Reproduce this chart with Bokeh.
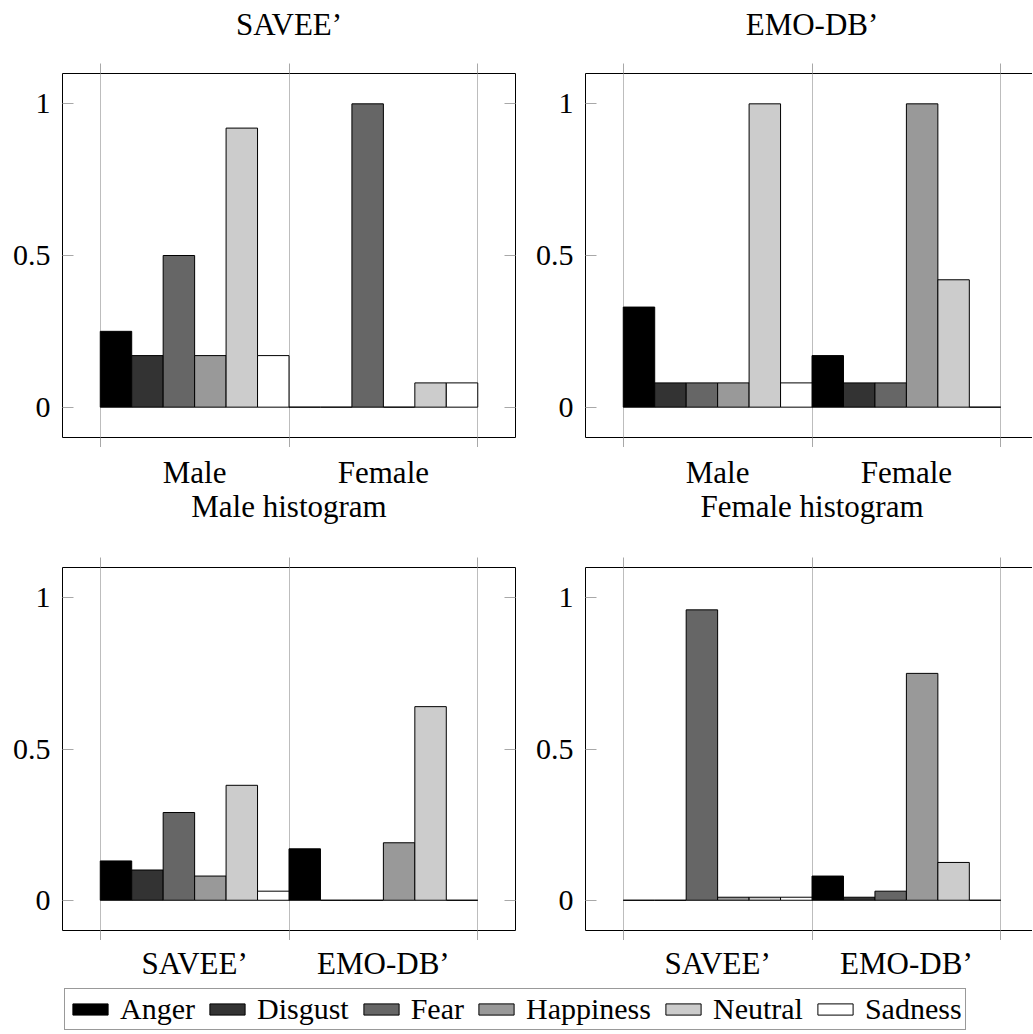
from bokeh.plotting import figure
from bokeh.models import Range1d, FixedTicker, LinearAxis, Legend, LegendItem, ColumnDataSource
from bokeh.core.properties import value
from bokeh.layouts import column, row
from bokeh.embed import file_html
from bokeh.resources import INLINE

emotions = ["Anger", "Disgust", "Fear", "Happiness", "Neutral", "Sadness"]
colors = ["#000000", "#333333", "#666666", "#999999", "#cccccc", "#ffffff"]

top_groups = ["Male", "Female"]
bottom_groups = ["SAVEE’", "EMO-DB’"]
titles = ["SAVEE’", "EMO-DB’", "Male histogram", "Female histogram"]

# values per group, ordered as emotions
savee_male = [0.25, 0.17, 0.50, 0.17, 0.92, 0.17]
savee_female = [0.0, 0.0, 1.00, 0.0, 0.08, 0.08]
emodb_male = [0.33, 0.08, 0.08, 0.08, 1.00, 0.08]
emodb_female = [0.17, 0.08, 0.08, 1.00, 0.42, 0.0]
malehist_savee = [0.13, 0.10, 0.29, 0.08, 0.38, 0.03]
malehist_emodb = [0.17, 0.0, 0.0, 0.19, 0.64, 0.0]
femalehist_savee = [0.0, 0.0, 0.96, 0.01, 0.01, 0.01]
femalehist_emodb = [0.08, 0.01, 0.03, 0.75, 0.125, 0.0]

yticks = [0, 0.5, 1]
ytick_labels = ["0", "0.5", "1"]

FONT = "Liberation Serif"
FS = "30px"
FS_TEXT = "31px"
GRID = "#bdbdbd"
TICK = "#a8a8a8"


def make_panel(groups, series, width, height, mb_left, mb_right, mb_top, mb_bottom,
               x_end, right_axis=True):
    p = figure(width=width, height=height, x_range=Range1d(0.3, x_end), y_range=Range1d(-0.1, 1.1),
               output_backend="svg", toolbar_location=None, title=None,
               min_border_left=mb_left, min_border_right=mb_right,
               min_border_top=mb_top, min_border_bottom=mb_bottom)
    p.outline_line_color = None
    p.background_fill_color = "white"
    p.border_fill_color = "white"

    gpos = [i + 1 for i in range(len(groups))]
    bounds = [gpos[0] - 0.5] + [g + 0.5 for g in gpos]

    p.xgrid[0].ticker = FixedTicker(ticks=bounds)
    p.xgrid[0].grid_line_color = GRID
    p.xgrid[0].grid_line_width = 1
    p.ygrid[0].grid_line_color = None

    # bottom and top axes: tick marks at group boundaries, outside
    for xa, loc in ((p.xaxis[0], None), (LinearAxis(), "above")):
        xa.ticker = FixedTicker(ticks=[], minor_ticks=bounds)
        xa.major_tick_out = 0
        xa.major_tick_in = 0
        xa.minor_tick_out = 10
        xa.minor_tick_in = 0
        xa.minor_tick_line_color = TICK
        xa.axis_line_color = "black"
        xa.major_label_standoff = 0
        if loc:
            p.add_layout(xa, loc)

    # left axis
    ya = p.yaxis[0]
    ya.ticker = FixedTicker(ticks=yticks, minor_ticks=[])
    ya.major_label_overrides = {t: lab for t, lab in zip(yticks, ytick_labels)}
    ya.major_tick_out = 0
    ya.major_tick_in = 11
    ya.major_tick_line_color = TICK
    ya.axis_line_color = "black"
    ya.major_label_text_font = FONT
    ya.major_label_text_font_size = FS
    ya.major_label_text_color = "black"
    ya.major_label_standoff = 12

    if right_axis:
        ra = LinearAxis(ticker=FixedTicker(ticks=[], minor_ticks=yticks))
        ra.major_tick_out = 0
        ra.major_tick_in = 0
        ra.minor_tick_out = 0
        ra.minor_tick_in = 11
        ra.minor_tick_line_color = TICK
        ra.axis_line_color = "black"
        ra.major_label_standoff = 0
        p.add_layout(ra, "right")

    n = len(emotions)
    for ei, (emo, col) in enumerate(zip(emotions, colors)):
        xs = [g + (ei - (n - 1) / 2) / n for g in gpos]
        tops = [s[ei] for s in series]
        src = ColumnDataSource(dict(x=xs, top=tops))
        p.vbar(x="x", top="top", bottom=0, width=1 / n, source=src,
               fill_color=col, line_color="black", line_width=1)
    return p


def text_strip(panel, height, entries):
    """A strip of text sharing the panel's horizontal scale; y counts pixels from the top (text middle)."""
    t = figure(width=panel.width, height=height, x_range=panel.x_range, y_range=Range1d(height, 0),
               output_backend="svg", toolbar_location=None, title=None,
               x_axis_location=None, y_axis_location=None,
               min_border_left=panel.min_border_left, min_border_right=panel.min_border_right,
               min_border_top=0, min_border_bottom=0)
    t.outline_line_color = None
    t.xgrid.grid_line_color = None
    t.ygrid.grid_line_color = None
    src = ColumnDataSource(dict(x=[e[0] for e in entries], y=[e[1] for e in entries],
                                text=[e[2] for e in entries]))
    t.text(x="x", y="y", text="text", source=src, text_font=value(FONT), text_font_size=value(FS_TEXT),
           text_color="black", text_align=value("center"), text_baseline=value("middle"))
    return t


p1 = make_panel(top_groups, [savee_male, savee_female], 530, 397, 62, 15, 23, 10, 2.7)
p2 = make_panel(top_groups, [emodb_male, emodb_female], 502, 397, 55, 0, 23, 10, 2.668, right_axis=False)
p3 = make_panel(bottom_groups, [malehist_savee, malehist_emodb], 530, 383, 62, 15, 10, 10, 2.7)
p4 = make_panel(bottom_groups, [femalehist_savee, femalehist_emodb], 502, 383, 55, 0, 10, 10, 2.668,
                right_axis=False)

# text strips: titles above each panel, category names below
a1 = text_strip(p1, 50, [(1.5, 23.5, titles[0])])
a2 = text_strip(p2, 50, [(1.5, 23.5, titles[1])])
c1 = text_strip(p1, 110, [(1, 24.5, top_groups[0]), (2, 24.5, top_groups[1]), (1.5, 58.5, titles[2])])
c2 = text_strip(p2, 110, [(1, 24.5, top_groups[0]), (2, 24.5, top_groups[1]), (1.5, 58.5, titles[3])])
e1 = text_strip(p3, 46, [(1, 22.5, bottom_groups[0]), (2, 22.5, bottom_groups[1])])
e2 = text_strip(p4, 46, [(1, 22.5, bottom_groups[0]), (2, 22.5, bottom_groups[1])])

# legend strip
lg = figure(width=1032, height=44, output_backend="svg", toolbar_location=None, title=None,
            x_axis_location=None, y_axis_location=None,
            min_border_left=0, min_border_right=0, min_border_top=0, min_border_bottom=0,
            x_range=Range1d(0, 1), y_range=Range1d(0, 1))
lg.outline_line_color = None
lg.xgrid.grid_line_color = None
lg.ygrid.grid_line_color = None
items = []
for emo, col in zip(emotions, colors):
    r = lg.vbar(x=[5], top=[5], bottom=4, width=0.1, fill_color=col, line_color="black", line_width=1)
    items.append(LegendItem(label=emo, renderers=[r]))
legend = Legend(items=items, orientation="horizontal", location=(64, 0),
                glyph_width=44, glyph_height=14, label_standoff=8, spacing=10,
                padding=3, margin=0,
                label_text_font=FONT, label_text_font_size=FS, label_text_color="black",
                border_line_color="#333333", border_line_width=1,
                background_fill_color="white", background_fill_alpha=1)
lg.add_layout(legend, "center")

layout = column(row(a1, a2), row(p1, p2), row(c1, c2), row(p3, p4), row(e1, e2), lg)

open("out.html", "w").write(file_html(layout, INLINE))
